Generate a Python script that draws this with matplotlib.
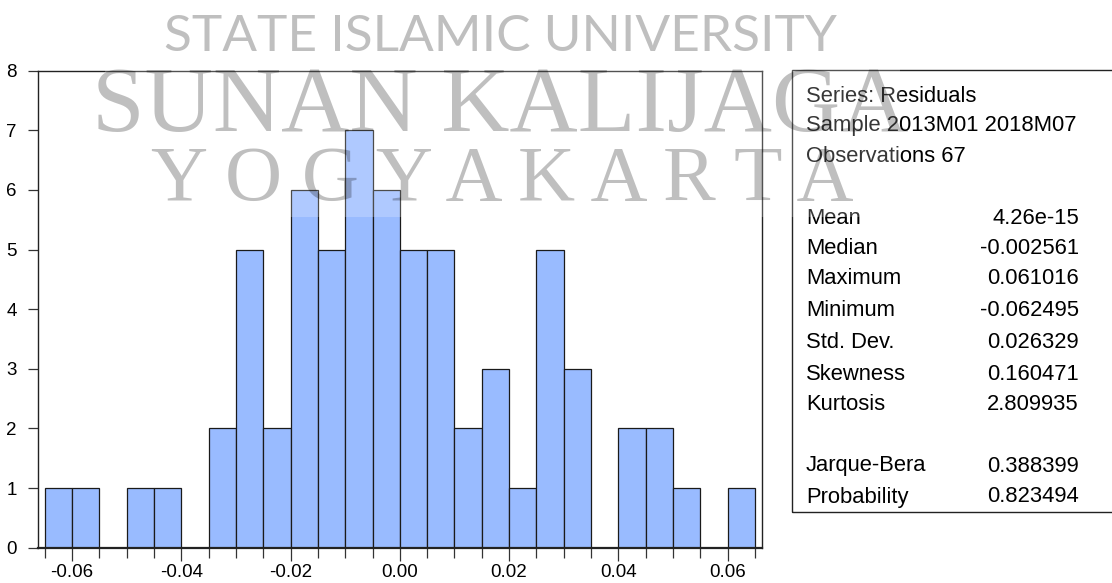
import numpy as np
import matplotlib
matplotlib.use("Agg")
import matplotlib.pyplot as plt
from matplotlib.patches import Rectangle
from matplotlib.ticker import MultipleLocator, FixedLocator

plt.rcParams['font.family'] = ['Liberation Sans', 'DejaVu Sans']

# histogram of residuals, bins of width 0.005 from -0.065 to 0.065
bin_edges = [-0.065, -0.060, -0.055, -0.050, -0.045, -0.040, -0.035, -0.030, -0.025,
             -0.020, -0.015, -0.010, -0.005, 0.000, 0.005, 0.010, 0.015, 0.020,
             0.025, 0.030, 0.035, 0.040, 0.045, 0.050, 0.055, 0.060, 0.065]
counts = [1, 1, 0, 1, 1, 0, 2, 5, 2, 6, 5, 7, 6, 5, 5, 2, 3, 1, 5, 3, 0, 2, 2, 1, 0, 1]

x_ticks = [-0.06, -0.04, -0.02, 0.00, 0.02, 0.04, 0.06]
x_tick_labels = ['-0.06', '-0.04', '-0.02', '0.00', '0.02', '0.04', '0.06']

header_lines = ['Series: Residuals', 'Sample 2013M01 2018M07', 'Observations 67']
stat_names = ['Mean', 'Median', 'Maximum', 'Minimum', 'Std. Dev.', 'Skewness', 'Kurtosis',
              '', 'Jarque-Bera', 'Probability']
stat_values = ['4.26e-15', '-0.002561', '0.061016', '-0.062495', '0.026329', '0.160471',
               '2.809935', '', '0.388399', '0.823494']

W, H = 1112, 583
fig = plt.figure(figsize=(W / 100, H / 100), dpi=100)
ax = fig.add_axes([37.7 / W, 1 - 547.7 / H, (762 - 37.7) / W, (547.7 - 70.7) / H])

ax.bar(bin_edges[:-1], counts, width=0.005, align='edge',
       color='#99bbff', edgecolor='#1a1a1a', linewidth=0.9)

ax.set_xlim(-0.0663, 0.0663)
ax.set_ylim(0, 8)
ax.set_xticks(x_ticks)
ax.set_xticklabels(x_tick_labels)
ax.xaxis.set_minor_locator(FixedLocator(bin_edges))
ax.yaxis.set_major_locator(MultipleLocator(1))
ax.tick_params(axis='both', labelsize=13.5, direction='out', width=0.9, color='#333333')
ax.tick_params(axis='x', which='major', length=9, pad=3)
ax.tick_params(axis='x', which='minor', length=7, width=0.9, color='#333333')
ax.tick_params(axis='y', length=7, pad=8)
for s in ax.spines.values():
    s.set_linewidth(1.0)
    s.set_color('#222222')
ax.spines['bottom'].set_linewidth(1.6)

# statistics box
fig.patches.append(Rectangle((792 / W, 1 - 512 / H), (W + 10 - 792) / W, (512 - 70) / H,
                             transform=fig.transFigure, fill=False,
                             edgecolor='#222222', linewidth=1.0))
header_y = [96, 126, 156]
for txt, yy in zip(header_lines, header_y):
    fig.text(806 / W, 1 - yy / H, txt, fontsize=15.8, va='center', ha='left')
stat_y = [219, 249, 279, 310, 342, 374, 405, 436, 466, 497]
for name, val, yy in zip(stat_names, stat_values, stat_y):
    fig.text(806 / W, 1 - yy / H, name, fontsize=15.8, va='center', ha='left')
    fig.text(1079 / W, 1 - yy / H, val, fontsize=15.8, va='center', ha='right')

# watermark overlay
fig.patches.append(Rectangle((105 / W, 1 - 217 / H), (900 - 105) / W, 217 / H,
                             transform=fig.transFigure, facecolor='white',
                             edgecolor='none', alpha=0.22, zorder=5))
fig.text(500 / W, 1 - 37 / H, 'STATE ISLAMIC UNIVERSITY', fontsize=37,
         family=['Lato', 'DejaVu Sans'], color='black', alpha=0.25,
         ha='center', va='center', zorder=6)
fig.text(500 / W, 1 - 108 / H, 'SUNAN KALIJAGA', fontsize=68,
         family=['Liberation Serif'], color='black', alpha=0.25,
         ha='center', va='center', zorder=6)
fig.text(502 / W, 1 - 181 / H, 'Y O G Y A K A R T A', fontsize=57,
         family=['Liberation Serif'], color='black', alpha=0.25,
         ha='center', va='center', zorder=6)

fig.savefig('out.png', dpi=100)
